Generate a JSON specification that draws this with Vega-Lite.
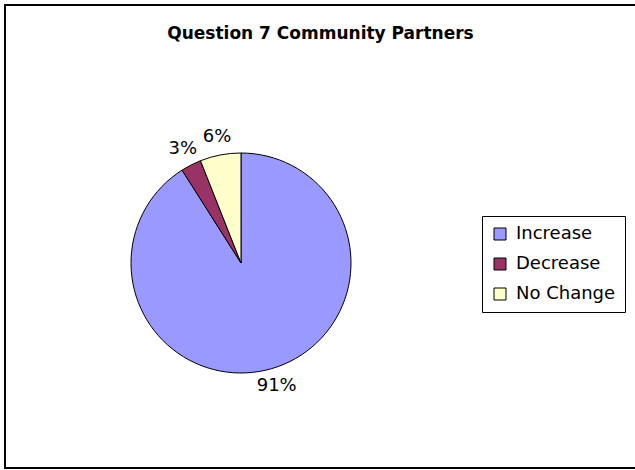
{
  "$schema": "https://vega.github.io/schema/vega-lite/v6.json",
  "width": 631,
  "height": 464,
  "autosize": {"type": "none"},
  "padding": {"left": 5, "top": 5, "right": 0, "bottom": 0},
  "background": "white",
  "title": {
    "text": "Question 7 Community Partners",
    "font": "DejaVu Sans",
    "fontSize": 17,
    "fontWeight": "bold",
    "color": "black",
    "frame": "group",
    "anchor": "middle",
    "baseline": "alphabetic",
    "offset": -34,
    "dy": 18
  },
  "config": {
    "view": {"stroke": null},
    "text": {"font": "DejaVu Sans"}
  },
  "layer": [
    {
      "data": {"values": [{"frame": 1}]},
      "mark": {"type": "rect", "fill": "white", "stroke": "black", "strokeWidth": 2, "x": 0, "y": 0, "x2": 700, "y2": 463},
      "encoding": {}
    },
    {
      "data": {
        "values": [
          {"category": "Increase", "value": 91, "label": "91%", "rank": 1},
          {"category": "Decrease", "value": 3, "label": "3%", "rank": 2},
          {"category": "No Change", "value": 6, "label": "6%", "rank": 3}
        ]
      },
      "layer": [
        {
          "mark": {"type": "arc", "outerRadius": 110, "stroke": "black", "strokeWidth": 1, "x": 236, "y": 258},
          "encoding": {
            "theta": {"field": "value", "type": "quantitative", "stack": true},
            "order": {"field": "rank", "type": "quantitative"},
            "color": {
              "field": "category",
              "type": "nominal",
              "sort": ["Increase", "Decrease", "No Change"],
              "scale": {"domain": ["Increase", "Decrease", "No Change"], "range": ["#9999FF", "#993366", "#FFFFCC"]},
              "legend": {
                "title": null,
                "orient": "none",
                "legendX": 477,
                "legendY": 211,
                "strokeColor": "black",
                "fillColor": "white",
                "padding": 9,
                "symbolType": "square",
                "symbolSize": 144,
                "symbolStrokeColor": "black",
                "symbolStrokeWidth": 1,
                "symbolOpacity": 1,
                "labelFont": "DejaVu Sans",
                "labelFontSize": 18,
                "labelColor": "black",
                "labelOffset": 7,
                "rowPadding": 12
              }
            }
          }
        },
        {
          "mark": {"type": "text", "radius": 128, "fontSize": 18, "font": "DejaVu Sans", "color": "black", "baseline": "middle", "x": 236, "y": 258},
          "encoding": {
            "theta": {"field": "value", "type": "quantitative", "stack": true},
            "order": {"field": "rank", "type": "quantitative"},
            "detail": {"field": "category", "type": "nominal"},
            "text": {"field": "label", "type": "nominal"}
          }
        }
      ]
    }
  ]
}
